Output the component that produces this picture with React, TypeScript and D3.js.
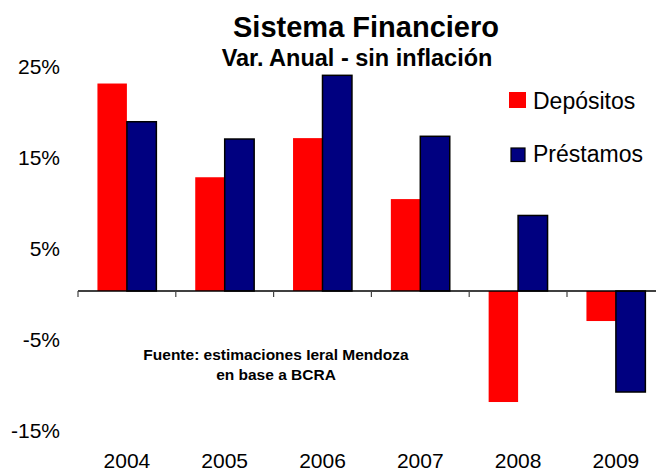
import React from 'react';
import * as d3 from 'd3';

const years = ['2004', '2005', '2006', '2007', '2008', '2009'];
const series = ['Depósitos', 'Préstamos'];
const depositos = [22.8, 12.5, 16.8, 10.1, -12.2, -3.3];
const prestamos = [18.6, 16.7, 23.7, 17.0, 8.3, -11.1];
const yTicks = [25, 15, 5, -5, -15];
const colors = ['#ff0000', '#000080'];

const font = '"Liberation Sans", Arial, sans-serif';

const App = () => {
  const width = 656;
  const height = 471;

  const x = d3.scaleBand().domain(years).range([78, 78 + 6 * 97.8]).padding(0);
  const xSub = d3.scaleBand().domain(series).range([0, x.bandwidth()]).paddingInner(0).paddingOuter(0.66);
  const y = d3.scaleLinear().domain([-15, 25]).range([427.5, 63.5]);

  const values = [depositos, prestamos];

  return (
    <svg width={width} height={height} style={{ position: 'absolute', left: 0, top: 0, background: '#fff' }}>
      {/* titles */}
      <text x={366} y={37} textAnchor="middle" fontFamily={font} fontWeight="bold" fontSize={29}>Sistema Financiero</text>
      <text x={357} y={66} textAnchor="middle" fontFamily={font} fontWeight="bold" fontSize={23.5}>Var. Anual - sin inflación</text>

      {/* y labels, no axis line */}
      {yTicks.map(t => (
        <text key={t} x={60} y={y(t) + 10} textAnchor="end" fontFamily={font} fontSize={21}>{`${t}%`}</text>
      ))}

      {/* bars */}
      {series.map((s, si) => (
        <g key={s} fill={colors[si]}>
          {years.map((yr, i) => {
            const v = values[si][i];
            const bx = (x(yr) as number) + (xSub(s) as number);
            const top = Math.min(y(v), y(0));
            const h = Math.abs(y(v) - y(0));
            return si === 0
              ? <rect key={yr} x={bx} y={top} width={xSub.bandwidth()} height={h} />
              : <rect key={yr} x={bx} y={top} width={xSub.bandwidth()} height={h} stroke="#000" strokeWidth={1.5} />;
          })}
        </g>
      ))}

      {/* x axis */}
      <line x1={78} x2={width} y1={y(0)} y2={y(0)} stroke="#000" strokeWidth={1.5} />
      {years.map(yr => (
        <line key={yr} x1={x(yr)} x2={x(yr)} y1={y(0)} y2={y(0) + 6} stroke="#444" strokeWidth={1.2} />
      ))}
      {years.map(yr => (
        <text key={yr} x={(x(yr) as number) + x.bandwidth() / 2} y={468} textAnchor="middle" fontFamily={font} fontSize={21}>{yr}</text>
      ))}

      {/* legend */}
      <rect x={509} y={92} width={17} height={16} fill={colors[0]} />
      <text x={533} y={109} fontFamily={font} fontSize={23}>{series[0]}</text>
      <rect x={511} y={148} width={14} height={13.5} fill={colors[1]} stroke="#000" strokeWidth={1.2} />
      <text x={533} y={162} fontFamily={font} fontSize={23}>{series[1]}</text>

      {/* source note */}
      <text x={276} y={360} textAnchor="middle" fontFamily={font} fontWeight="bold" fontSize={15.5}>Fuente: estimaciones Ieral Mendoza</text>
      <text x={276} y={380} textAnchor="middle" fontFamily={font} fontWeight="bold" fontSize={15.5}>en base a BCRA</text>
    </svg>
  );
};

export default App;
